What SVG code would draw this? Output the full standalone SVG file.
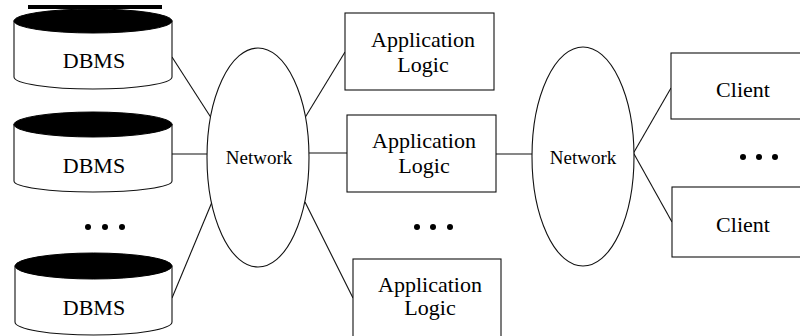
<svg xmlns="http://www.w3.org/2000/svg" width="800" height="336" viewBox="0 0 800 336">
<defs>
<style>
.bg{fill:#fff}
.ln{stroke:#111;stroke-width:1.1;fill:none}
.box{fill:#fff;stroke:#111;stroke-width:1.1}
.body{fill:#fff;stroke:#111;stroke-width:1.1}
.top{fill:#000;stroke:#000;stroke-width:1}
.net{fill:#fff;stroke:#111;stroke-width:1.1}
.t{font-family:"Liberation Serif","Times New Roman",serif;font-size:22px;fill:#000;text-anchor:middle}
.tn{font-family:"Liberation Serif","Times New Roman",serif;font-size:19px;fill:#000;text-anchor:middle}
.dot{fill:#000}
</style>
</defs>
<rect class="bg" x="0" y="0" width="800" height="336"/>
<rect x="28" y="5" width="134" height="4" fill="#000"/>

<g id="connectors">
<line class="ln" x1="172" y1="57" x2="210.6" y2="117"/>
<line class="ln" x1="172" y1="154" x2="207" y2="154"/>
<line class="ln" x1="172" y1="298" x2="211.6" y2="203"/>
<line class="ln" x1="305.4" y1="117" x2="345" y2="52"/>
<line class="ln" x1="309" y1="153" x2="347" y2="153"/>
<line class="ln" x1="305" y1="202" x2="353" y2="298"/>
<line class="ln" x1="496" y1="154" x2="532" y2="154"/>
<line class="ln" x1="633.5" y1="153" x2="671" y2="88"/>
<line class="ln" x1="633.5" y1="153" x2="672" y2="222"/>
</g>

<g id="dbms1">
<path class="body" d="M14,21 L14,77 A79,12 0 0 0 172,77 L172,21 Z"/>
<ellipse class="top" cx="93" cy="21" rx="79" ry="12"/>
<text class="t" x="94" y="68">DBMS</text>
</g>
<g id="dbms2">
<path class="body" d="M14,124.5 L14,181 A79,11 0 0 0 172,181 L172,124.5 Z"/>
<ellipse class="top" cx="93" cy="124.5" rx="79" ry="12.5"/>
<text class="t" x="94" y="173">DBMS</text>
</g>
<g id="dbms-dots">
<circle class="dot" cx="88" cy="227" r="3"/>
<circle class="dot" cx="105" cy="227" r="3"/>
<circle class="dot" cx="122" cy="227" r="3"/>
</g>
<g id="dbms3">
<path class="body" d="M15,266 L15,322 A78.5,13 0 0 0 172,322 L172,266 Z"/>
<ellipse class="top" cx="93.5" cy="266" rx="78.5" ry="13"/>
<text class="t" x="94" y="315">DBMS</text>
</g>

<g id="network1">
<ellipse class="net" cx="258" cy="157.5" rx="51" ry="109.5"/>
<text class="tn" x="259" y="164">Network</text>
</g>

<g id="app1">
<rect class="box" x="345" y="13" width="149" height="77"/>
<text class="t" x="423" y="47">Application</text>
<text class="t" x="423" y="72">Logic</text>
</g>
<g id="app2">
<rect class="box" x="347" y="115" width="149" height="77"/>
<text class="t" x="424" y="148">Application</text>
<text class="t" x="424" y="173">Logic</text>
</g>
<g id="app-dots">
<circle class="dot" cx="417" cy="227" r="3"/>
<circle class="dot" cx="433" cy="227" r="3"/>
<circle class="dot" cx="450" cy="227" r="3"/>
</g>
<g id="app3">
<rect class="box" x="353" y="259" width="148" height="90"/>
<text class="t" x="430" y="292">Application</text>
<text class="t" x="430" y="315">Logic</text>
</g>

<g id="network2">
<ellipse class="net" cx="583" cy="156.5" rx="51" ry="109.5"/>
<text class="tn" x="583" y="164">Network</text>
</g>

<g id="client1">
<rect class="box" x="671" y="53" width="140" height="66"/>
<text class="t" x="743" y="97">Client</text>
</g>
<g id="client-dots">
<circle class="dot" cx="743" cy="157" r="3"/>
<circle class="dot" cx="759" cy="157" r="3"/>
<circle class="dot" cx="775" cy="157" r="3"/>
</g>
<g id="client2">
<rect class="box" x="672" y="187" width="140" height="70"/>
<text class="t" x="743" y="232">Client</text>
</g>
</svg>
